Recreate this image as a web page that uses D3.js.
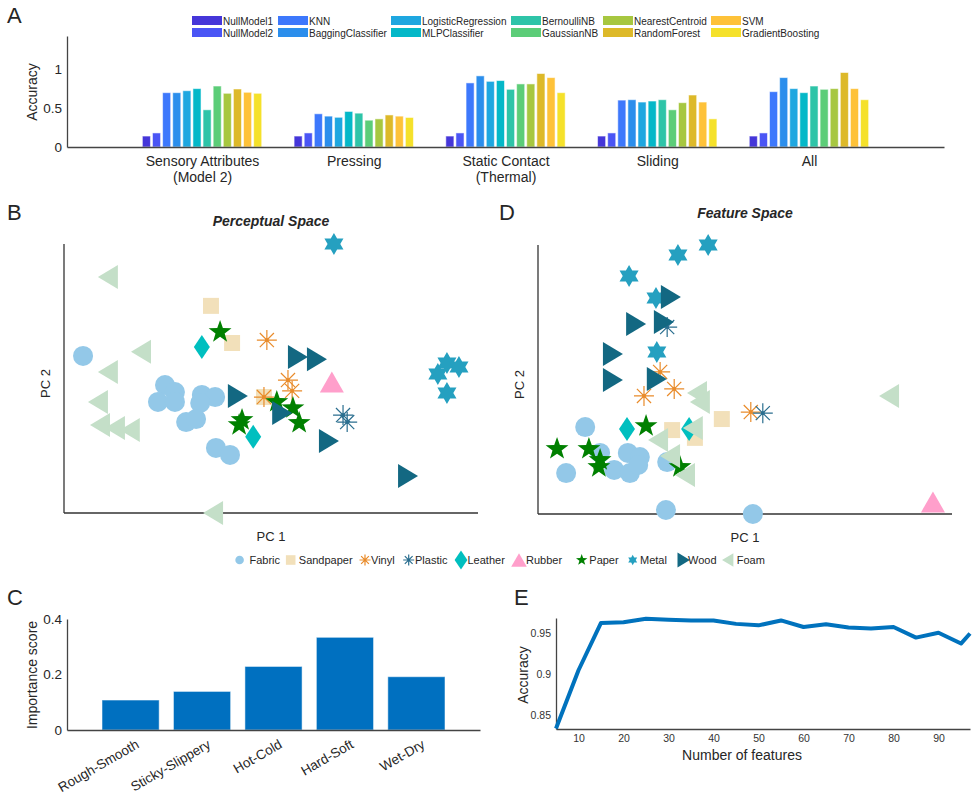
<!DOCTYPE html>
<html>
<head>
<meta charset="utf-8">
<style>
  body { margin: 0; background: #fff; font-family: "Liberation Sans", Arial, Helvetica, sans-serif; }
  svg text { fill: #262626; font-family: "Liberation Sans", Arial, Helvetica, sans-serif; }
  .axis .domain { stroke: #444; stroke-width: 1.3; }
  .axis text { font-size: 13.5px; }
  .letter { font-size: 22px; }
  .label { font-size: 14px; }
  .small-axis text { font-size: 10.5px; fill: #333; }
</style>
</head>
<body>
<script src="https://cdn.jsdelivr.net/npm/d3@7"></script>
<script>
// ---- data ----
const classifiers = ['NullModel1', 'NullModel2', 'KNN', 'BaggingClassifier', 'LogisticRegression', 'MLPClassifier',
  'BernoulliNB', 'GaussianNB', 'NearestCentroid', 'RandomForest', 'SVM', 'GradientBoosting'];
const classifierColors = ['#4536d9', '#4a55f5', '#3d78fc', '#2b8eec', '#1ea7e0', '#04b8c8',
  '#2ec4a8', '#5ccd78', '#a7c740', '#ddb929', '#fec239', '#f5e12a'];
const featureSets = [['Sensory Attributes', '(Model 2)'], ['Pressing'], ['Static Contact', '(Thermal)'], ['Sliding'], ['All']];
const accSensory = [0.14, 0.18, 0.695, 0.695, 0.72, 0.747, 0.476, 0.78, 0.687, 0.742, 0.70, 0.687];
const accPressing = [0.14, 0.18, 0.425, 0.395, 0.38, 0.455, 0.433, 0.343, 0.36, 0.41, 0.395, 0.378];
const accStatic = [0.14, 0.18, 0.82, 0.91, 0.84, 0.85, 0.738, 0.807, 0.807, 0.94, 0.888, 0.695];
const accSliding = [0.14, 0.18, 0.60, 0.605, 0.575, 0.588, 0.605, 0.476, 0.567, 0.665, 0.575, 0.36];
const accAll = [0.14, 0.18, 0.708, 0.888, 0.747, 0.695, 0.78, 0.738, 0.747, 0.953, 0.747, 0.605];
const accTicks = [0, 0.5, 1];

const materials = ['Fabric', 'Sandpaper', 'Vinyl', 'Plastic', 'Leather', 'Rubber', 'Paper', 'Metal', 'Wood', 'Foam'];
const materialColors = ['#93c8e8', '#f2e0ba', '#e98b2a', '#2a6e8f', '#00bfbf', '#ff9fcb', '#008000', '#25a0c0', '#136882', '#c4dfc8'];
const materialShapes = ['circle', 'square', 'asterisk', 'asterisk', 'diamond', 'triUp', 'star', 'hexagram', 'triRight', 'triLeft'];

// PC1, PC2 (relative units, 0-100 of axis extent)
const perceptualPoints = [
  ['Fabric', 4.6, 58.4], ['Fabric', 24.4, 47.6], ['Fabric', 26.8, 45.0], ['Fabric', 22.7, 41.3], ['Fabric', 26.8, 41.3],
  ['Fabric', 33.3, 43.9], ['Fabric', 36.5, 43.1], ['Fabric', 32.9, 40.9], ['Fabric', 29.5, 33.8], ['Fabric', 31.9, 34.9],
  ['Fabric', 36.7, 24.2], ['Fabric', 40.1, 21.6],
  ['Sandpaper', 35.5, 77.0], ['Sandpaper', 40.6, 63.2], ['Sandpaper', 48.3, 43.1],
  ['Vinyl', 49.0, 64.3], ['Vinyl', 54.1, 49.4], ['Vinyl', 55.1, 45.4], ['Vinyl', 48.3, 43.1],
  ['Plastic', 67.4, 36.4], ['Plastic', 68.4, 33.8],
  ['Leather', 33.3, 61.7], ['Leather', 45.7, 28.3],
  ['Rubber', 64.7, 48.7],
  ['Paper', 37.7, 67.3], ['Paper', 51.4, 41.3], ['Paper', 55.3, 39.0], ['Paper', 56.8, 33.5], ['Paper', 43.0, 34.6], ['Paper', 42.3, 32.7],
  ['Metal', 65.2, 100], ['Metal', 92.5, 55.8], ['Metal', 95.4, 54.3], ['Metal', 90.3, 51.7], ['Metal', 92.5, 44.6],
  ['Wood', 56.5, 58.0], ['Wood', 61.1, 57.2], ['Wood', 42.0, 43.5], ['Wood', 52.7, 37.2], ['Wood', 64.0, 26.8], ['Wood', 83.1, 13.8],
  ['Foam', 10.6, 87.7], ['Foam', 18.6, 59.9], ['Foam', 10.6, 52.4], ['Foam', 8.2, 41.3], ['Foam', 8.7, 32.7],
  ['Foam', 12.3, 31.6], ['Foam', 15.9, 30.9], ['Foam', 36.0, 0]
];
const featurePoints = [
  ['Fabric', 11.4, 32.3], ['Fabric', 6.8, 15.2], ['Fabric', 15.0, 22.7], ['Fabric', 18.4, 16.4], ['Fabric', 21.7, 22.7],
  ['Fabric', 24.6, 21.2], ['Fabric', 22.2, 15.2], ['Fabric', 24.2, 18.2], ['Fabric', 31.2, 19.3], ['Fabric', 30.9, 1.5],
  ['Fabric', 51.9, 0],
  ['Sandpaper', 44.4, 35.3], ['Sandpaper', 32.4, 31.2], ['Sandpaper', 37.9, 28.3],
  ['Vinyl', 29.5, 52.8], ['Vinyl', 25.6, 43.9], ['Vinyl', 32.9, 46.5], ['Vinyl', 51.4, 37.9],
  ['Plastic', 31.2, 69.5], ['Plastic', 54.3, 37.5],
  ['Leather', 21.5, 31.6], ['Leather', 36.5, 31.6],
  ['Rubber', 95.4, 4.5],
  ['Paper', 26.1, 32.7], ['Paper', 4.6, 24.2], ['Paper', 12.3, 24.2], ['Paper', 15.0, 20.1], ['Paper', 14.7, 17.5], ['Paper', 34.3, 17.5],
  ['Metal', 41.1, 100], ['Metal', 33.8, 96.3], ['Metal', 22.0, 88.5], ['Metal', 28.5, 80.3], ['Metal', 28.7, 60.2],
  ['Wood', 32.1, 80.7], ['Wood', 23.7, 70.6], ['Wood', 30.4, 71.4], ['Wood', 18.1, 59.5], ['Wood', 18.1, 49.8], ['Wood', 28.7, 50.2],
  ['Foam', 38.4, 45.0], ['Foam', 39.1, 41.6], ['Foam', 84.8, 43.9], ['Foam', 37.4, 32.0], ['Foam', 29.0, 27.5],
  ['Foam', 31.9, 21.6], ['Foam', 35.5, 14.5]
];

const attributes = ['Rough-Smooth', 'Sticky-Slippery', 'Hot-Cold', 'Hard-Soft', 'Wet-Dry'];
const importance = [0.108, 0.139, 0.229, 0.334, 0.192];
const importanceTicks = [0, 0.2, 0.4];

const featureCounts = [5, 10, 15, 20, 25, 30, 35, 40, 45, 50, 55, 60, 65, 70, 75, 80, 85, 90, 95, 97];
const accByCount = [0.8336, 0.905, 0.963, 0.9638, 0.968, 0.967, 0.966, 0.966, 0.9618, 0.960, 0.966, 0.958,
  0.9614, 0.9573, 0.956, 0.958, 0.945, 0.951, 0.9377, 0.950];
const countTicks = [10, 20, 30, 40, 50, 60, 70, 80, 90];
const accCountTicks = [0.85, 0.9, 0.95];

// ---- helpers ----
function markerPath(shape, s) {
  const p = d3.path();
  if (shape === 'circle') {
    p.arc(0, 0, 10 * s, 0, 2 * Math.PI);
  } else if (shape === 'square') {
    p.rect(-8 * s, -8 * s, 16 * s, 16 * s);
  } else if (shape === 'diamond') {
    p.moveTo(0, -12 * s); p.lineTo(8 * s, 0); p.lineTo(0, 12 * s); p.lineTo(-8 * s, 0); p.closePath();
  } else if (shape === 'triUp') {
    p.moveTo(0, -10.5 * s); p.lineTo(12 * s, 10.5 * s); p.lineTo(-12 * s, 10.5 * s); p.closePath();
  } else if (shape === 'triRight') {
    p.moveTo(-10 * s, -12 * s); p.lineTo(10 * s, 0); p.lineTo(-10 * s, 12 * s); p.closePath();
  } else if (shape === 'triLeft') {
    p.moveTo(10 * s, -12 * s); p.lineTo(-10 * s, 0); p.lineTo(10 * s, 12 * s); p.closePath();
  } else if (shape === 'star' || shape === 'hexagram') {
    const n = shape === 'star' ? 5 : 6;
    const R = (shape === 'star' ? 12 : 11) * s;
    const r = shape === 'star' ? R * 0.4 : R / Math.sqrt(3);
    for (let i = 0; i < 2 * n; i++) {
      const a = -Math.PI / 2 + i * Math.PI / n;
      const rr = i % 2 === 0 ? R : r;
      if (i === 0) p.moveTo(rr * Math.cos(a), rr * Math.sin(a));
      else p.lineTo(rr * Math.cos(a), rr * Math.sin(a));
    }
    p.closePath();
  } else if (shape === 'asterisk') {
    const R = 10 * s;
    for (let i = 0; i < 4; i++) {
      const a = i * Math.PI / 4;
      p.moveTo(-R * Math.cos(a), -R * Math.sin(a));
      p.lineTo(R * Math.cos(a), R * Math.sin(a));
    }
  }
  return p.toString();
}

function drawMarker(g, material, s) {
  const i = materials.indexOf(material);
  const shape = materialShapes[i];
  const color = materialColors[i];
  if (shape === 'asterisk') {
    g.append('path').attr('d', markerPath(shape, s))
      .attr('fill', 'none').attr('stroke', color).attr('stroke-width', 1.2);
    g.append('circle').attr('r', 1.8 * s).attr('fill', color);
  } else {
    g.append('path').attr('d', markerPath(shape, s)).attr('fill', color);
  }
}

const svg = d3.select('body').append('svg')
  .attr('width', 978)
  .attr('height', 798);

// ---- Panel A ----
const xA = d3.scaleLinear().domain([0.11, 5.89]).range([67, 944]);
const yA = d3.scaleLinear().domain([0, 1.42]).range([147, 36]);
const inner = d3.scaleBand().domain(classifiers).range([-0.4, 0.4]).paddingInner(0.2).paddingOuter(0.1);
const accBySet = [accSensory, accPressing, accStatic, accSliding, accAll];

svg.append('text').attr('class', 'letter').attr('x', 7).attr('y', 23).text('A');

const barsA = svg.append('g');
accBySet.forEach((vals, gi) => {
  barsA.append('g').selectAll('rect')
    .data(vals)
    .join('rect')
    .attr('x', (d, j) => xA(gi + 1 + inner(classifiers[j])))
    .attr('width', xA(inner.bandwidth()) - xA(0))
    .attr('y', d => yA(d))
    .attr('height', d => yA(0) - yA(d))
    .attr('fill', (d, j) => classifierColors[j])
    .attr('stroke', 'rgba(255,255,255,0.55)')
    .attr('stroke-width', 1);
});

svg.append('g').attr('class', 'axis')
  .attr('transform', 'translate(67,0)')
  .call(d3.axisLeft(yA).tickValues(accTicks).tickFormat(d3.format('~g')).tickSize(0).tickSizeOuter(0).tickPadding(5));

const xAxisA = svg.append('g').attr('class', 'axis')
  .attr('transform', 'translate(0,147)')
  .call(d3.axisBottom(xA).tickValues([1, 2, 3, 4, 5]).tickFormat('').tickSize(0).tickSizeOuter(0));
xAxisA.select('.domain').attr('stroke', '#707070').attr('stroke-width', 2);
xAxisA.selectAll('.tick').each(function(d) {
  const t = d3.select(this).append('text').attr('fill', '#262626').attr('text-anchor', 'middle').style('font-size', '14px');
  featureSets[d - 1].forEach((line, k) => {
    t.append('tspan').attr('x', 0).attr('y', 19 + k * 16).text(line);
  });
});

svg.append('text').attr('class', 'label')
  .attr('transform', 'translate(37,92) rotate(-90)')
  .attr('text-anchor', 'middle').text('Accuracy');

// legend A (2 rows x 6 columns)
const legendColsA = [192, 278, 391, 511, 603, 711];
const legA = svg.append('g').selectAll('g')
  .data(classifiers)
  .join('g')
  .attr('transform', (d, i) => `translate(${legendColsA[Math.floor(i / 2)]},${i % 2 === 0 ? 16 : 28})`);
legA.append('rect').attr('width', 30).attr('height', 9).attr('fill', (d, i) => classifierColors[i]);
legA.append('text').attr('x', 31).attr('y', 8.5).style('font-size', '10px').text(d => d);

// ---- Panels B and D ----
function drawScatter(points, box, title, titleY) {
  const x = d3.scaleLinear().domain([0, 100]).range([box.left, box.right]);
  const y = d3.scaleLinear().domain([0, 100]).range([box.bottom, box.top]);
  const g = svg.append('g');
  g.append('line').attr('x1', box.left).attr('x2', box.left).attr('y1', box.top).attr('y2', box.bottom)
    .attr('stroke', '#333').attr('stroke-width', 1.3);
  g.append('line').attr('x1', box.left).attr('x2', box.right).attr('y1', box.bottom).attr('y2', box.bottom)
    .attr('stroke', '#333').attr('stroke-width', 1.3);
  const ordered = materials.flatMap(m => points.filter(p => p[0] === m));
  g.selectAll('g.pt')
    .data(ordered)
    .join('g')
    .attr('class', 'pt')
    .attr('transform', d => `translate(${x(d[1])},${y(d[2])})`)
    .each(function(d) { drawMarker(d3.select(this), d[0], 1); });
  const cx = (box.left + box.right) / 2;
  g.append('text').attr('x', cx).attr('y', titleY).attr('text-anchor', 'middle')
    .style('font-size', '14px').style('font-weight', 'bold').style('font-style', 'italic').text(title);
  g.append('text').attr('x', cx).attr('y', box.bottom + 28).attr('text-anchor', 'middle')
    .style('font-size', '13px').text('PC 1');
  g.append('text').attr('transform', `translate(${box.left - 14},${(box.top + box.bottom) / 2 + 5}) rotate(-90)`)
    .attr('text-anchor', 'middle').style('font-size', '13px').text('PC 2');
}

svg.append('text').attr('class', 'letter').attr('x', 7).attr('y', 220).text('B');
svg.append('text').attr('class', 'letter').attr('x', 499).attr('y', 220).text('D');
drawScatter(perceptualPoints, { left: 64, right: 478, top: 244, bottom: 513 }, 'Perceptual Space', 226);
drawScatter(featurePoints, { left: 538, right: 952, top: 245, bottom: 514 }, 'Feature Space', 218);

// material legend: [marker x, marker scale, text x]
const legendLayout = [[239.6, 0.43, 249.5], [290.7, 0.6, 298.8], [365, 0.55, 371], [408.7, 0.55, 415], [461, 0.8, 467.5],
  [519, 0.65, 526], [581.7, 0.5, 589.3], [632.7, 0.47, 640], [683.7, 0.62, 688], [727.7, 0.57, 736.7]];
const legM = svg.append('g').selectAll('g')
  .data(materials)
  .join('g')
  .attr('transform', 'translate(0,560)');
legM.each(function(d, i) {
  const g = d3.select(this);
  const mg = g.append('g').attr('transform', `translate(${legendLayout[i][0]},0)`);
  drawMarker(mg, d, legendLayout[i][1]);
  g.append('text').attr('x', legendLayout[i][2]).attr('y', 4).style('font-size', '11px').text(d);
});

// ---- Panel C ----
svg.append('text').attr('class', 'letter').attr('x', 7).attr('y', 605).text('C');
const xC = d3.scaleLinear().domain([0.11, 5.89]).range([67, 480]);
const yC = d3.scaleLinear().domain([0, 0.4]).range([730, 619]);
svg.append('g').selectAll('rect')
  .data(importance)
  .join('rect')
  .attr('x', (d, i) => xC(i + 1 - 0.4))
  .attr('width', xC(0.8) - xC(0))
  .attr('y', d => yC(d))
  .attr('height', d => yC(0) - yC(d))
  .attr('fill', '#0070c0')
  .attr('stroke', 'rgba(255,255,255,0.5)')
  .attr('stroke-width', 1);
svg.append('g').attr('class', 'axis')
  .attr('transform', 'translate(67,0)')
  .call(d3.axisLeft(yC).tickValues(importanceTicks).tickFormat(d3.format('~g')).tickSize(0).tickSizeOuter(0).tickPadding(5));
const xAxisC = svg.append('g').attr('class', 'axis')
  .attr('transform', 'translate(0,730)')
  .call(d3.axisBottom(xC).tickValues([1, 2, 3, 4, 5]).tickFormat((d) => attributes[d - 1]).tickSize(0).tickSizeOuter(0));
xAxisC.select('.domain').attr('stroke', '#707070').attr('stroke-width', 2);
xAxisC.selectAll('.tick text')
  .attr('text-anchor', 'end')
  .attr('dy', null)
  .attr('y', 0)
  .attr('transform', 'translate(9,17) rotate(-30)')
  .style('font-size', '13.5px');
svg.append('text').attr('class', 'label')
  .attr('transform', 'translate(37,675) rotate(-90)')
  .attr('text-anchor', 'middle').text('Importance score');

// ---- Panel E ----
svg.append('text').attr('class', 'letter').attr('x', 514).attr('y', 605).text('E');
const xE = d3.scaleLinear().domain([5, 97]).range([556, 970]);
const yE = d3.scaleLinear().domain([0.833, 0.969]).range([729, 618]);
svg.append('g').attr('class', 'axis small-axis')
  .attr('transform', 'translate(556,0)')
  .call(d3.axisLeft(yE).tickValues(accCountTicks).tickFormat(d3.format('~g')).tickSize(0).tickSizeOuter(0).tickPadding(5));
const xAxisE = svg.append('g').attr('class', 'axis small-axis')
  .attr('transform', 'translate(0,729)')
  .call(d3.axisBottom(xE).tickValues(countTicks).tickSize(0).tickSizeOuter(0).tickPadding(6));
xAxisE.select('.domain').attr('stroke', '#707070').attr('stroke-width', 2);
svg.append('path')
  .datum(featureCounts.map((c, i) => [c, accByCount[i]]))
  .attr('fill', 'none')
  .attr('stroke', '#0072bd')
  .attr('stroke-width', 4)
  .attr('stroke-linejoin', 'round')
  .attr('d', d3.line().x(d => xE(d[0])).y(d => yE(d[1])));
svg.append('text').attr('class', 'label')
  .attr('x', 742).attr('y', 760).attr('text-anchor', 'middle').text('Number of features');
svg.append('text').attr('class', 'label')
  .attr('transform', 'translate(528,675) rotate(-90)')
  .attr('text-anchor', 'middle').text('Accuracy');
</script>
</body>
</html>
